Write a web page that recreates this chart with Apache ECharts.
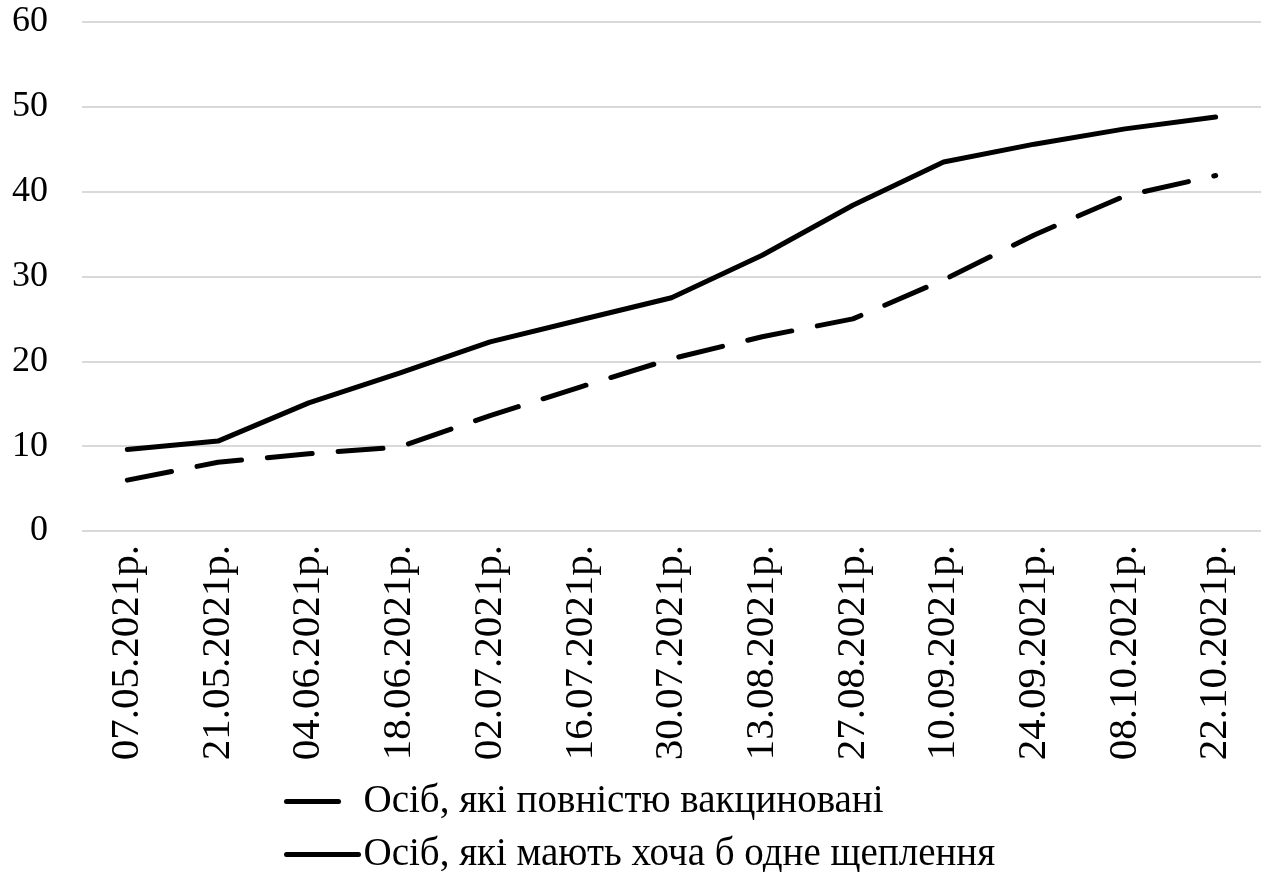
<!DOCTYPE html>
<html style="height: 100%">
<head>
    <meta charset="utf-8">
    <title>Вакцинація</title>
</head>
<body style="height: 100%; margin: 0; background: #fff;">
<div id="container" style="width: 1264px; height: 872px"></div>
<script src="https://cdn.jsdelivr.net/npm/echarts@6/dist/echarts.min.js"></script>
<script type="text/javascript">

    var dates = ['07.05.2021р.', '21.05.2021р.', '04.06.2021р.', '18.06.2021р.', '02.07.2021р.',
        '16.07.2021р.', '30.07.2021р.', '13.08.2021р.', '27.08.2021р.', '10.09.2021р.',
        '24.09.2021р.', '08.10.2021р.', '22.10.2021р.'];
    var fullyVaccinated = [6.0, 8.1, 9.1, 9.9, 13.6, 17.0, 20.3, 22.9, 25.0, 29.6, 34.9, 39.5, 41.9];
    var atLeastOneDose = [9.6, 10.6, 15.1, 18.6, 22.3, 24.9, 27.5, 32.5, 38.4, 43.5, 45.6, 47.4, 48.8];
    var seriesNames = ['Осіб, які повністю вакциновані', 'Осіб, які мають хоча б одне щеплення'];

    var font = '"Liberation Serif", "DejaVu Serif", serif';
    var dom = document.getElementById("container");
    var myChart = echarts.init(dom);
    var option = {
        animation: false,
        textStyle: {fontFamily: font, color: '#000'},
        grid: {
            left: 82,
            right: 3,
            top: 22,
            bottom: 341
        },
        legend: {
            orient: 'vertical',
            left: 279,
            top: 777,
            height: 120,
            itemGap: 14,
            itemWidth: 72,
            itemHeight: 14,
            itemStyle: {color: 'transparent', borderColor: 'transparent', borderWidth: 0},
            textStyle: {fontFamily: font, fontSize: 39, color: '#000'},
            data: [
                {name: seriesNames[0], lineStyle: {width: 5, type: [52, 40], cap: 'round'}},
                {name: seriesNames[1], lineStyle: {width: 5, cap: 'round'}}
            ]
        },
        xAxis: {
            type: 'category',
            data: dates,
            axisLine: {show: false},
            axisTick: {show: false},
            axisLabel: {
                rotate: 90,
                margin: 14,
                interval: 0,
                fontFamily: font,
                fontSize: 41,
                color: '#000'
            }
        },
        yAxis: {
            type: 'value',
            min: 0,
            max: 60,
            interval: 10,
            axisLabel: {
                margin: 34,
                fontFamily: font,
                fontSize: 36,
                color: '#000'
            },
            splitLine: {lineStyle: {color: '#d9d9d9', width: 2}}
        },
        series: [
            {
                name: seriesNames[0],
                type: 'line',
                data: fullyVaccinated,
                symbol: 'none',
                itemStyle: {color: '#000'},
                lineStyle: {color: '#000', width: 5, type: [45, 26], cap: 'round'}
            },
            {
                name: seriesNames[1],
                type: 'line',
                data: atLeastOneDose,
                symbol: 'none',
                itemStyle: {color: '#000'},
                lineStyle: {color: '#000', width: 5, cap: 'round'}
            }
        ]
    };
    myChart.setOption(option, true);

</script>
</body>
</html>
